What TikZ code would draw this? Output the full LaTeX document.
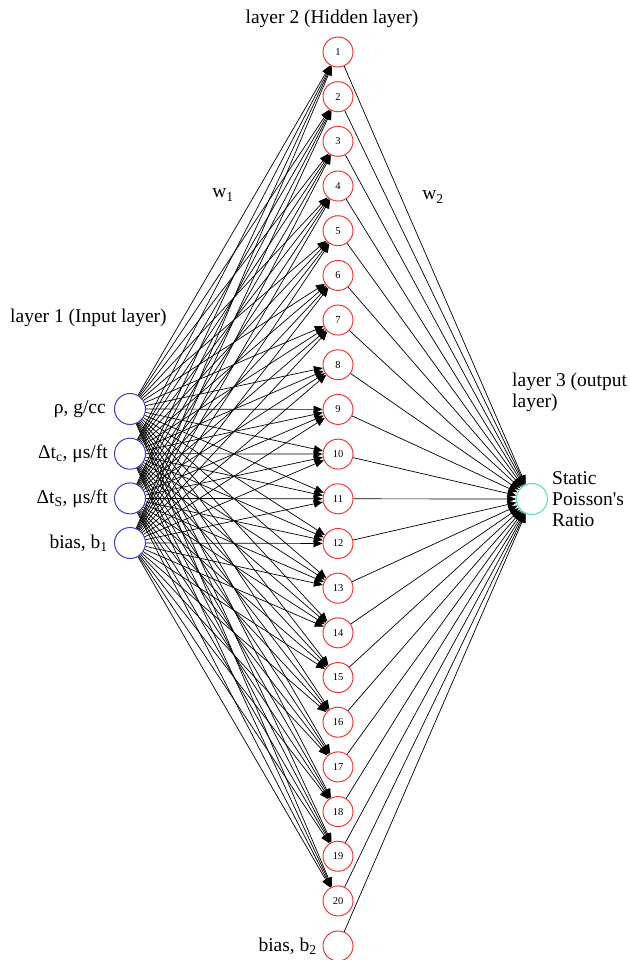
\documentclass[tikz,border=0pt]{standalone}
\usepackage{fontspec}
\setmainfont{Liberation Serif}
\usetikzlibrary{arrows.meta}
\definecolor{hidred}{RGB}{240,55,55}
\definecolor{inblue}{RGB}{60,60,200}
\definecolor{outgreen}{RGB}{80,225,160}
\begin{document}
\begin{tikzpicture}[x=1pt,y=-1pt,
  inp/.style={circle,draw=inblue,minimum size=31pt,inner sep=0pt,line width=1pt},
  hid/.style={circle,draw=hidred,minimum size=30pt,inner sep=0pt,line width=1pt,font=\fontsize{10.5}{12}\selectfont},
  outn/.style={circle,draw=outgreen,minimum size=31pt,inner sep=0pt,line width=1pt},
  edge/.style={draw=black,line width=0.7pt,-{Triangle[length=9pt,width=7.5pt]}},
  lbl/.style={inner sep=0pt,font=\fontsize{19.5}{21}\selectfont}]
\useasboundingbox (0,0) rectangle (629,960);
% hidden layer
\foreach \i in {1,...,20} \node[hid] (h\i) at (338,{52+(\i-1)*44.68}) {\i};
\node[hid] (hb) at (338,946) {};
% input layer
\node[inp] (i1) at (130,409) {};
\node[inp] (i2) at (130,453.7) {};
\node[inp] (i3) at (130,498.4) {};
\node[inp] (i4) at (130,543) {};
% output
\node[outn] (o) at (532,499) {};
% edges
\foreach \a in {1,...,4} \foreach \h in {1,...,20} \draw[edge] (i\a) -- (h\h);
\foreach \h in {1,...,20} \draw[edge] (h\h) -- (o);
\draw[edge] (hb) -- (o);
% labels
\node[lbl,anchor=west] (l1) at (10,318) {layer 1 (Input layer)};
\node[lbl] (l2) at (332,19) {layer 2 (Hidden layer)};
\node[lbl,anchor=west,align=left] (l3) at (512,392) {layer 3 (output\\layer)};
\node[lbl,anchor=west,align=left] (l4) at (552,499) {Static\\Poisson\textquotesingle s\\Ratio};
\node[lbl] (w1) at (223,195) {w\textsubscript{1}};
\node[lbl] (w2) at (433,197) {w\textsubscript{2}};
\node[lbl,anchor=east] (t1) at (106,409) {ρ, g/cc};
\node[lbl,anchor=east] (t2) at (108,453.7) {Δt\textsubscript{c}, μs/ft};
\node[lbl,anchor=east] (t3) at (108,498.4) {Δt\textsubscript{S}, μs/ft};
\node[lbl,anchor=east] (t4) at (108,543) {bias, b\textsubscript{1}};
\node[lbl,anchor=east] (t5) at (317,946) {bias, b\textsubscript{2}};
\end{tikzpicture}
\end{document}
